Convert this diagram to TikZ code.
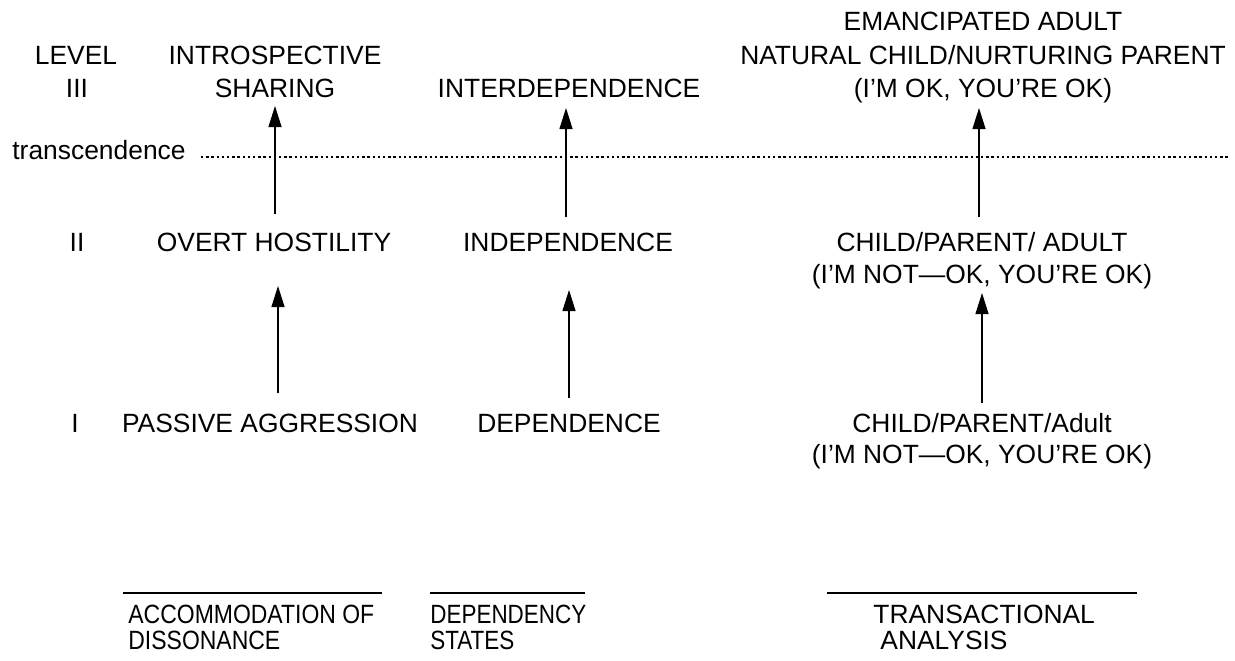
\documentclass[tikz,border=0pt]{standalone}
\usepackage{graphicx}
\usepackage{fontspec}
\setmainfont{Liberation Sans}
\usetikzlibrary{arrows.meta}
\begin{document}
\begin{tikzpicture}[x=0.5pt,y=-0.5pt,
  txt/.style={inner sep=0pt,anchor=base,font=\fontsize{13.2}{16}\selectfont},
  txtl/.style={txt,anchor=base west},
  uparrow/.style={line width=0.6pt,-{Triangle[length=10.5pt,width=6.5pt]}},
  rule/.style={line width=0.7pt},
  dotline/.style={line width=1.2pt,dash pattern=on 1.2pt off 1.4pt}]
\useasboundingbox (0,0) rectangle (1235,660);

% level labels
\node[txt] (lvl)  at (76,64)  {LEVEL};
\node[txt] (lvl3) at (77,97)  {III};
\node[txt] (lvl2) at (77,251) {II};
\node[txt] (lvl1) at (75,432) {I};

% level III
\node[txt] (intro1) at (275,64) {INTROSPECTIVE};
\node[txt] (intro2) at (275,97) {SHARING};
\node[txt] (interdep) at (569,97) {INTERDEPENDENCE};
\node[txt] (ta3a) at (983,30) {EMANCIPATED ADULT};
\node[txt] (ta3b) at (983,64) {NATURAL CHILD/NURTURING PARENT};
\node[txt] (ta3c) at (983,97) {(I’M OK, YOU’RE OK)};

% transcendence line
\node[txtl] (trans) at (12,159) {transcendence};
\coordinate (dotA) at (201,157);
\coordinate (dotB) at (1228,157);
\draw[dotline] (dotA) -- (dotB);

% level II
\node[txt] (hostil) at (274,251) {OVERT HOSTILITY};
\node[txt] (indep) at (568,251) {INDEPENDENCE};
\node[txt] (ta2a) at (982,251) {CHILD/PARENT/ ADULT};
\node[txt] (ta2b) at (982,283) {(I’M NOT—OK, YOU’RE OK)};

% level I
\node[txt] (passive) at (270,432) {PASSIVE AGGRESSION};
\node[txt] (dep) at (569,432) {DEPENDENCE};
\node[txt] (ta1a) at (982,432) {CHILD/PARENT/Adult};
\node[txt] (ta1b) at (982,463) {(I’M NOT—OK, YOU’RE OK)};

% arrow end points
\coordinate (a1s) at (275,214); \coordinate (a1e) at (275,106);
\coordinate (a2s) at (566,217); \coordinate (a2e) at (566,108);
\coordinate (a3s) at (979,217); \coordinate (a3e) at (979,108);
\coordinate (b1s) at (278,393); \coordinate (b1e) at (278,286);
\coordinate (b2s) at (569,398); \coordinate (b2e) at (569,290);
\coordinate (b3s) at (982,403); \coordinate (b3e) at (982,293);
\draw[uparrow] (a1s) -- (a1e);
\draw[uparrow] (a2s) -- (a2e);
\draw[uparrow] (a3s) -- (a3e);
\draw[uparrow] (b1s) -- (b1e);
\draw[uparrow] (b2s) -- (b2e);
\draw[uparrow] (b3s) -- (b3e);

% column headings at the foot
\coordinate (r1a) at (123,593); \coordinate (r1b) at (382,593);
\coordinate (r2a) at (430,593); \coordinate (r2b) at (585,593);
\coordinate (r3a) at (827,593); \coordinate (r3b) at (1137,593);
\draw[rule] (r1a) -- (r1b);
\draw[rule] (r2a) -- (r2b);
\draw[rule] (r3a) -- (r3b);
\node[txtl] (acc1) at (128,623) {\scalebox{0.87}[1]{ACCOMMODATION OF}};
\node[txtl] (acc2) at (128,649) {\scalebox{0.87}[1]{DISSONANCE}};
\node[txtl] (dst1) at (430,623) {\scalebox{0.85}[1]{DEPENDENCY}};
\node[txtl] (dst2) at (430,649) {\scalebox{0.85}[1]{STATES}};
\node[txtl] (tra1) at (873,623) {TRANSACTIONAL};
\node[txtl] (tra2) at (880,649) {ANALYSIS};
\end{tikzpicture}
\end{document}
